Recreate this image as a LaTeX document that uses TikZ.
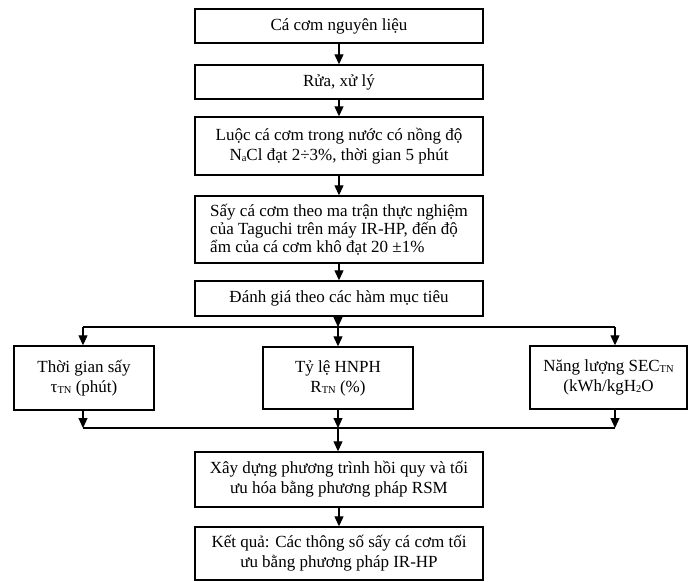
\documentclass[tikz,border=0pt]{standalone}
\usepackage{fontspec}
\setmainfont{Liberation Serif}
\usetikzlibrary{arrows.meta}
\newcommand{\mysub}[1]{\raisebox{-1.2pt}{\fontsize{10.5}{10.5}\selectfont #1}}
\begin{document}
\begin{tikzpicture}[x=1pt,y=-1pt,
  box/.style={draw,line width=1.4pt,minimum width=288pt,inner sep=0pt,font=\fontsize{17}{20}\selectfont,align=center},
  sbox/.style={draw,line width=1.4pt,inner sep=0pt,font=\fontsize{17}{20}\selectfont,align=center},
  arr/.style={line width=1.1pt,-{Triangle[width=9pt,length=10pt]}},
  ln/.style={line width=1.1pt}]
\useasboundingbox (0,0) rectangle (688,581);
\node[box,minimum height=34pt] (b1) at (339,26) {Cá cơm nguyên liệu};
\node[box,minimum height=34pt] (b2) at (339,82) {Rửa, xử lý};
\node[box,minimum height=58pt] (b3) at (339,146) {Luộc cá cơm trong nước có nồng độ\\N\mysub{a}Cl đạt 2÷3\%, thời gian 5 phút};
\node[box,minimum height=67pt,align=left,font=\fontsize{17}{18}\selectfont] (b4) at (339,229.5) {Sấy cá cơm theo ma trận thực nghiệm\\của Taguchi trên máy IR-HP, đến độ\\ẩm của cá cơm khô đạt 20 ±1\%};
\node[box,minimum height=35pt] (b5) at (339,298.5) {\raisebox{-3pt}{Đánh giá theo các hàm mục tiêu}};
\node[sbox,minimum width=140pt,minimum height=64pt] (L) at (84,378) {Thời gian sấy\\τ\mysub{TN} (phút)};
\node[sbox,minimum width=150pt,minimum height=62pt] (C) at (338,378) {\raisebox{6pt}{\begin{tabular}{@{}c@{}}Tỷ lệ HNPH\\R\mysub{TN} (\%)\end{tabular}}};
\node[sbox,minimum width=157pt,minimum height=63pt] (R) at (608.5,377.5) {Năng lượng SEC\mysub{TN}\\(kWh/kgH\mysub{2}O};
\node[box,minimum height=55pt] (b6) at (339,479.5) {Xây dựng phương trình hồi quy và tối\\ưu hóa bằng phương pháp RSM};
\node[box,minimum height=53pt] (b7) at (339,553.5) {Kết quả: Các thông số sấy cá cơm tối\\ưu bằng phương pháp IR-HP};
\coordinate (tl) at (83,327);
\coordinate (tc) at (338,327);
\coordinate (tr) at (615,327);
\coordinate (ml) at (83,428);
\coordinate (mc) at (338,428);
\coordinate (mr) at (615,428);
\draw[arr] (b1) -- (b2);
\draw[arr] (b2) -- (b3);
\draw[arr] (b3) -- (b4);
\draw[arr] (b4) -- (b5);
\draw[arr] (b5.south -| tc) -- (tc);
\draw[ln] (tl) -- (tr);
\draw[arr] (tl) -- (tl |- L.north);
\draw[arr] (tc) -- (tc |- C.north);
\draw[arr] (tr) -- (tr |- R.north);
\draw[arr] (tl |- L.south) -- (ml);
\draw[arr] (tc |- C.south) -- (mc);
\draw[arr] (tr |- R.south) -- (mr);
\draw[ln] (ml) -- (mr);
\draw[arr] (mc) -- (mc |- b6.north);
\draw[arr] (b6) -- (b7);
\end{tikzpicture}
\end{document}
